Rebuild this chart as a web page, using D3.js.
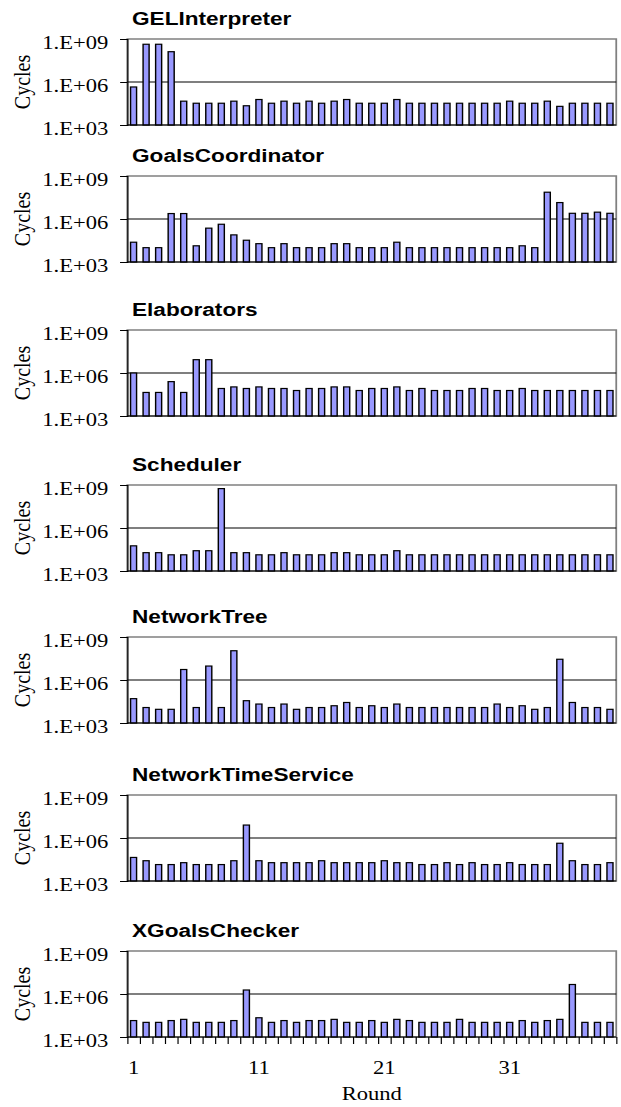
<!DOCTYPE html>
<html>
<head>
<meta charset="utf-8">
<script src="https://cdn.jsdelivr.net/npm/d3@7"></script>
<style>
  body { margin: 0; background: #fff; }
  svg { display: block; }
</style>
</head>
<body>
<div id="chart"></div>
<script>
// Rounds 1..39
const rounds = d3.range(1, 40);
const roundLabels = [1, 11, 21, 31];
const yTicks = [1e3, 1e6, 1e9];

const panelNames = ["GELInterpreter", "GoalsCoordinator", "Elaborators", "Scheduler",
    "NetworkTree", "NetworkTimeService", "XGoalsChecker"];

// Cycles per round
const gelInterpreter = [4.5e5, 4.3e8, 4.3e8, 1.3e8, 4.6e4, 3.3e4, 3.3e4, 3.3e4, 4.6e4, 2.2e4,
    6e4, 3.3e4, 4.6e4, 3.3e4, 4.6e4, 3.3e4, 4.6e4, 6e4, 3.3e4, 3.3e4,
    3.3e4, 6e4, 3.3e4, 3.3e4, 3.3e4, 3.3e4, 3.3e4, 3.3e4, 3.3e4, 3.3e4,
    4.6e4, 3.3e4, 3.3e4, 4.6e4, 2e4, 3.3e4, 3.3e4, 3.3e4, 3.3e4];
const goalsCoordinator = [2.4e4, 1e4, 1e4, 2.4e6, 2.4e6, 1.35e4, 2.3e5, 4.3e5, 7.8e4, 3.3e4,
    1.9e4, 1e4, 1.9e4, 1e4, 1e4, 1e4, 1.9e4, 1.9e4, 1e4, 1e4,
    1e4, 2.4e4, 1e4, 1e4, 1e4, 1e4, 1e4, 1e4, 1e4, 1e4,
    1e4, 1.35e4, 1e4, 7.4e7, 1.4e7, 2.5e6, 2.5e6, 3e6, 2.5e6];
const elaborators = [1e6, 4.4e4, 4.4e4, 2.5e5, 4.4e4, 8.5e6, 8.5e6, 8.3e4, 1.07e5, 8.3e4,
    1.07e5, 8.3e4, 8.3e4, 6e4, 8.3e4, 8.3e4, 1.07e5, 1.07e5, 6e4, 8.3e4,
    8.3e4, 1.07e5, 6e4, 8.3e4, 6e4, 6e4, 6e4, 8.3e4, 8.3e4, 6e4,
    6e4, 8.3e4, 6e4, 6e4, 6e4, 6e4, 6e4, 6e4, 6e4];
const scheduler = [5.7e4, 1.9e4, 1.9e4, 1.35e4, 1.35e4, 2.6e4, 2.6e4, 5.6e8, 1.9e4, 1.9e4,
    1.35e4, 1.35e4, 1.9e4, 1.35e4, 1.35e4, 1.35e4, 1.9e4, 1.9e4, 1.35e4, 1.35e4,
    1.35e4, 2.6e4, 1.35e4, 1.35e4, 1.35e4, 1.35e4, 1.35e4, 1.35e4, 1.35e4, 1.35e4,
    1.35e4, 1.35e4, 1.35e4, 1.35e4, 1.35e4, 1.35e4, 1.35e4, 1.35e4, 1.35e4];
const networkTree = [5e4, 1.2e4, 9e3, 9e3, 5.4e6, 1.2e4, 9.4e6, 1.2e4, 1.1e8, 3.6e4,
    2.1e4, 1.2e4, 2.1e4, 9e3, 1.2e4, 1.2e4, 1.6e4, 2.7e4, 1.2e4, 1.6e4,
    1.2e4, 2.1e4, 1.2e4, 1.2e4, 1.2e4, 1.2e4, 1.2e4, 1.2e4, 1.2e4, 2.1e4,
    1.2e4, 1.6e4, 9e3, 1.2e4, 2.8e7, 2.7e4, 1.2e4, 1.2e4, 9e3];
const networkTimeService = [4.4e4, 2.6e4, 1.4e4, 1.4e4, 1.9e4, 1.4e4, 1.4e4, 1.4e4, 2.6e4, 8e6,
    2.6e4, 1.9e4, 1.9e4, 1.9e4, 1.9e4, 2.6e4, 1.9e4, 1.9e4, 1.9e4, 1.9e4,
    2.6e4, 1.9e4, 1.9e4, 1.4e4, 1.4e4, 1.9e4, 1.4e4, 1.9e4, 1.4e4, 1.4e4,
    1.9e4, 1.4e4, 1.4e4, 1.4e4, 4.3e5, 2.6e4, 1.4e4, 1.4e4, 1.9e4];
const xGoalsChecker = [1.4e4, 1.05e4, 1.05e4, 1.4e4, 1.7e4, 1.05e4, 1.05e4, 1.05e4, 1.4e4, 1.9e6,
    2.2e4, 1.05e4, 1.4e4, 1.05e4, 1.4e4, 1.4e4, 1.7e4, 1.05e4, 1.05e4, 1.4e4,
    1.05e4, 1.7e4, 1.4e4, 1.05e4, 1.05e4, 1.05e4, 1.7e4, 1.05e4, 1.05e4, 1.05e4,
    1.05e4, 1.4e4, 1.05e4, 1.4e4, 1.7e4, 4.6e6, 1.05e4, 1.05e4, 1.05e4];

const series = [gelInterpreter, goalsCoordinator, elaborators, scheduler,
    networkTree, networkTimeService, xGoalsChecker];

// The picture is stretched sideways, so draw narrow and let the viewBox widen it
const W = 522, H = 1107;
const left = 107, right = 518;
const plotH = 86;
const panelTops = [39, 176, 330, 485, 637, 795, 951];

const svg = d3.select("#chart")
    .append("svg")
    .attr("width", 621)
    .attr("height", H)
    .attr("viewBox", `0 0 ${W} ${H}`)
    .attr("preserveAspectRatio", "none");

const x = d3.scaleBand()
    .domain(rounds)
    .range([left, right])
    .paddingInner(0.52)
    .paddingOuter(0.26);

// boundaries between categories, for the tick marks
const xEdge = d3.scaleLinear()
    .domain([0.5, rounds.length + 0.5])
    .range([left, right]);

const serif = "'Liberation Serif', 'Times New Roman', serif";
const sans = "'Liberation Sans', Arial, sans-serif";

series.forEach((values, i) => {
    const top = panelTops[i];
    const y = d3.scaleLog()
        .domain([1e3, 1e9])
        .range([top + plotH, top]);

    const g = svg.append("g");

    // Plot area border (grey top / right)
    g.append("rect")
        .attr("x", left)
        .attr("y", top)
        .attr("width", right - left)
        .attr("height", plotH)
        .attr("fill", "none")
        .attr("stroke", "#808080")
        .attr("stroke-width", 1.5);

    // Gridline at 1E+06
    g.append("line")
        .attr("x1", left)
        .attr("x2", right)
        .attr("y1", y(1e6))
        .attr("y2", y(1e6))
        .attr("stroke", "#000")
        .attr("stroke-width", 1);

    // Bars
    g.selectAll("rect.bar")
        .data(values)
        .enter()
        .append("rect")
        .attr("class", "bar")
        .attr("x", (d, j) => x(rounds[j]))
        .attr("y", d => y(d))
        .attr("width", x.bandwidth())
        .attr("height", d => y(1e3) - y(d))
        .attr("fill", "#9999FF")
        .attr("stroke", "#000")
        .attr("stroke-width", 1.2);

    // Y-axis
    const yAxis = g.append("g")
        .attr("transform", `translate(${left},0)`)
        .call(d3.axisLeft(y)
            .tickValues(yTicks)
            .tickSize(6)
            .tickPadding(10)
            .tickFormat(d => "1.E+0" + Math.round(Math.log10(d))));
    yAxis.select(".domain").attr("stroke", "#000");
    yAxis.selectAll("text")
        .attr("dy", "0.5em")
        .attr("font-family", serif)
        .attr("font-size", 19)
        .attr("fill", "#000");

    // Bottom axis line
    g.append("line")
        .attr("x1", left)
        .attr("x2", right)
        .attr("y1", top + plotH)
        .attr("y2", top + plotH)
        .attr("stroke", "#000");

    // Y label
    g.append("text")
        .attr("transform", `translate(18,${top + plotH / 2}) rotate(-90)`)
        .attr("text-anchor", "middle")
        .attr("dy", "0.35em")
        .attr("font-family", serif)
        .attr("font-size", 20)
        .text("Cycles");

    // Title
    g.append("text")
        .attr("x", 111)
        .attr("y", top - 14)
        .attr("font-family", sans)
        .attr("font-weight", "bold")
        .attr("font-size", 19)
        .text(panelNames[i]);

    // Round axis on the last panel only
    if (i === series.length - 1) {
        const tickAxis = g.append("g")
            .attr("transform", `translate(0,${top + plotH})`)
            .call(d3.axisBottom(xEdge)
                .tickValues(d3.range(0.5, rounds.length + 1, 1))
                .tickSize(7)
                .tickFormat(""));
        tickAxis.select(".domain").remove();

        const labelAxis = g.append("g")
            .attr("transform", `translate(0,${top + plotH})`)
            .call(d3.axisBottom(x)
                .tickValues(roundLabels)
                .tickSize(0)
                .tickPadding(24));
        labelAxis.select(".domain").remove();
        labelAxis.selectAll("text")
            .attr("font-family", serif)
            .attr("font-size", 19)
            .attr("fill", "#000");

        g.append("text")
            .attr("x", (left + right) / 2)
            .attr("y", 1100)
            .attr("text-anchor", "middle")
            .attr("font-family", serif)
            .attr("font-size", 19)
            .text("Round");
    }
});
</script>
</body>
</html>
